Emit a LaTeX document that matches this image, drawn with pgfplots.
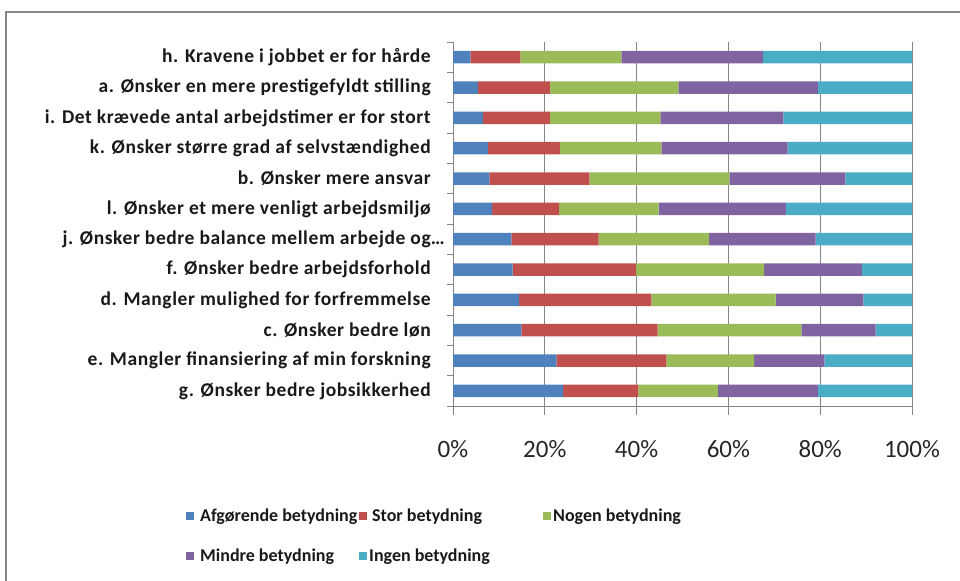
\documentclass[border=0pt]{standalone}
\usepackage{pgfplots}
\pgfplotsset{compat=1.18}
\usepackage{pgfplotstable}
\usepackage{fontspec}
\setmainfont{Carlito}
\newfontfamily\labelfont[LetterSpace=3]{Carlito}

\definecolor{cBlue}{HTML}{4F81BD}
\definecolor{cRed}{HTML}{C0504D}
\definecolor{cGreen}{HTML}{9BBB59}
\definecolor{cPurple}{HTML}{8064A2}
\definecolor{cAqua}{HTML}{4BACC6}
\definecolor{frame}{HTML}{868686}

% rows from bottom (g) to top (h)
\pgfplotstableread{
y afg stor nogen mindre ingen
0 24.0 16.4 17.3 21.8 20.5
1 22.5 24.0 19.1 15.3 19.1
2 14.9 29.7 31.3 16.2 7.9
3 14.4 28.8 27.1 19.1 10.6
4 13.0 26.9 27.9 21.3 10.9
5 12.7 19.0 24.1 23.2 21.0
6 8.5 14.6 21.7 27.7 27.5
7 7.9 21.8 30.5 25.3 14.5
8 7.6 15.7 22.1 27.5 27.1
9 6.5 14.6 24.1 26.8 28.0
10 5.4 15.7 28.0 30.4 20.5
11 3.8 10.9 22.0 30.8 32.5
}\datatable

\begin{document}
\begin{tikzpicture}
\useasboundingbox (0,0) rectangle (960bp,-581bp);
\draw[frame, line width=2bp] (6bp,-590bp) -- (6bp,-12bp) -- (970bp,-12bp);

\begin{axis}[
    at={(453bp,-406bp)}, anchor=south west,
    scale only axis,
    width=459bp, height=364bp,
    xbar stacked,
    bar width=12.5bp,
    xmin=0, xmax=100,
    ymin=-0.5, ymax=11.5,
    axis x line*=bottom,
    axis y line*=left,
    axis line style={frame, line width=0.8bp},
    xmajorgrids,
    grid style={frame, line width=0.8bp},
    tick align=outside,
    major tick length=9bp,
    minor tick length=6bp,
    tick style={frame, line width=0.8bp},
    every major y tick/.append style={draw=none},
    xtick={0,20,40,60,80,100},
    xticklabels={0\%,20\%,40\%,60\%,80\%,100\%},
    xticklabel style={font=\fontsize{25bp}{30bp}\selectfont, text=black!85, anchor=base, inner sep=0pt, yshift=-42bp},
    ytick={0,...,11},
    minor ytick={-0.5,0.5,...,11.5},
    yticklabels={
        g. Ønsker bedre jobsikkerhed,
        e. Mangler finansiering af min forskning,
        c. Ønsker bedre løn,
        d. Mangler mulighed for forfremmelse,
        f. Ønsker bedre arbejdsforhold,
        j. Ønsker bedre balance mellem arbejde og\rlap{\ldots},
        l. Ønsker et mere venligt arbejdsmiljø,
        b. Ønsker mere ansvar,
        k. Ønsker større grad af selvstændighed,
        i. Det krævede antal arbejdstimer er for stort,
        a. Ønsker en mere prestigefyldt stilling,
        h. Kravene i jobbet er for hårde},
    yticklabel style={font=\labelfont\bfseries\fontsize{19.5bp}{23bp}\selectfont, text=black!90, anchor=east, inner sep=0pt, xshift=-13bp},
    legend columns=3,
    legend style={
        at={(-0.5817,-0.357)}, anchor=west,
        draw=none, fill=none, inner sep=0pt,
        row sep=25bp, column sep=0pt,
        font=\bfseries\fontsize{18bp}{22bp}\selectfont,
        text=black!90,
        nodes={inner sep=0pt},
    },
    legend cell align=left,
    legend image code/.code={\fill[#1] (0bp,-4bp) rectangle (8bp,4bp);},
]
\addplot[fill=cBlue, draw=none] table[x=afg, y=y] {\datatable};
\addlegendentry{\hspace{6bp}\makebox[159bp][l]{Afgørende betydning}}
\addplot[fill=cRed, draw=none] table[x=stor, y=y] {\datatable};
\addlegendentry{\hspace{5bp}\makebox[171bp][l]{Stor betydning}}
\addplot[fill=cGreen, draw=none] table[x=nogen, y=y] {\datatable};
\addlegendentry{\hspace{2bp}Nogen betydning}
\addplot[fill=cPurple, draw=none] table[x=mindre, y=y] {\datatable};
\addlegendentry{\hspace{6bp}Mindre betydning}
\addplot[fill=cAqua, draw=none] table[x=ingen, y=y] {\datatable};
\addlegendentry{\hspace{2bp}Ingen betydning}
\end{axis}
\end{tikzpicture}
\end{document}
